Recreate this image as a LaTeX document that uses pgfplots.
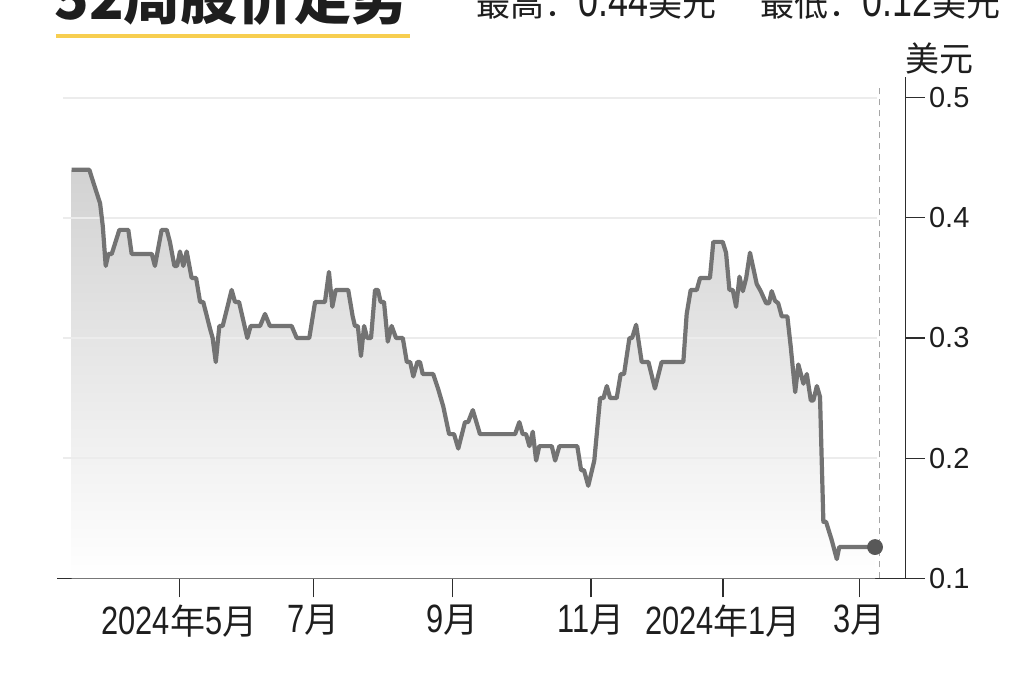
\documentclass[border=0pt]{standalone}
\usepackage{fontspec}
\setmainfont{Liberation Sans}
\newfontfamily\cjk{Noto Sans CJK SC}
\newfontfamily\narrow[FakeStretch=0.78]{Liberation Sans}
\usepackage{pgfplots}
\usepackage{pgfplotstable}
\pgfplotsset{compat=1.18}

\definecolor{linegray}{RGB}{115,115,115}
\definecolor{dotgray}{RGB}{88,88,88}
\definecolor{gridgray}{RGB}{236,236,236}
\definecolor{dashgray}{RGB}{165,165,165}
\definecolor{fillgray}{RGB}{210,210,210}
\definecolor{fillmid}{RGB}{243,243,243}
\definecolor{axisblack}{RGB}{45,45,45}
\definecolor{titleyellow}{RGB}{247,206,80}
\definecolor{textblack}{RGB}{30,30,30}

\newcommand\cj[2][17.5]{{\fontsize{#1}{#1}\cjk #2}}
\newcommand\dg[2][19.75]{{\fontsize{#1}{#1}\narrow #2}}

% day 0 = 1 May; price in USD
\pgfplotstableread{
day price
-48.1 0.440
-40.2 0.440
-39.2 0.434
-35.4 0.412
-34.2 0.393
-32.9 0.360
-31.7 0.370
-30.2 0.370
-26.8 0.390
-22.8 0.390
-21.3 0.370
-12.3 0.370
-10.9 0.360
-7.9 0.390
-5.6 0.390
-4.2 0.380
-2.2 0.360
-1.0 0.360
0.3 0.372
1.8 0.360
3.3 0.372
5.5 0.350
7.5 0.350
9.3 0.330
10.7 0.330
13.7 0.308
14.9 0.300
16.3 0.280
17.9 0.310
19.4 0.310
23.4 0.340
24.9 0.330
26.7 0.330
30.4 0.300
31.9 0.310
36.1 0.310
38.3 0.320
40.5 0.310
50.2 0.310
52.5 0.300
58.1 0.300
60.7 0.330
65.1 0.330
66.9 0.355
68.4 0.326
69.9 0.340
75.5 0.340
77.5 0.318
78.5 0.310
79.8 0.310
81.2 0.285
82.6 0.310
84.0 0.300
85.7 0.300
87.5 0.340
88.8 0.340
90.0 0.330
91.5 0.330
93.2 0.297
94.9 0.310
96.9 0.300
99.9 0.300
101.7 0.280
103.2 0.280
104.6 0.268
106.4 0.280
107.6 0.280
108.8 0.270
113.5 0.270
115.8 0.257
118.0 0.243
120.6 0.220
122.8 0.220
124.7 0.208
127.7 0.230
129.1 0.230
131.2 0.240
134.4 0.220
150.1 0.220
152.0 0.230
153.5 0.220
155.0 0.220
156.5 0.210
158.0 0.222
159.5 0.198
160.9 0.210
166.5 0.210
168.0 0.198
169.9 0.210
177.9 0.210
179.6 0.190
180.9 0.190
182.8 0.177
185.5 0.198
188.1 0.250
189.6 0.250
191.1 0.260
192.6 0.250
195.5 0.250
197.3 0.270
198.8 0.270
201.2 0.300
202.4 0.300
204.2 0.311
206.7 0.280
209.7 0.280
212.6 0.258
215.6 0.280
225.3 0.280
226.8 0.320
228.6 0.340
231.3 0.340
232.8 0.350
237.2 0.350
238.7 0.380
242.9 0.380
244.4 0.371
245.9 0.340
247.4 0.340
248.9 0.326
250.4 0.351
251.9 0.339
253.4 0.350
255.1 0.371
256.6 0.358
258.1 0.345
259.9 0.339
262.3 0.329
263.6 0.329
264.8 0.339
266.3 0.331
267.7 0.329
269.3 0.318
271.8 0.318
273.3 0.293
275.3 0.255
276.7 0.278
279.0 0.262
280.5 0.270
282.3 0.248
283.4 0.248
285.0 0.260
286.4 0.251
287.9 0.147
289.1 0.147
291.6 0.132
293.9 0.116
295.0 0.126
311.0 0.126
}\price

\begin{document}
\begin{tikzpicture}
\useasboundingbox (0,0) rectangle (512pt,341pt);
\clip (0,0) rectangle (512pt,341pt);

% title and header, cut by the top edge (pixel units)
\begin{scope}[x=0.5pt,y=0.5pt]
\node[anchor=base west, inner sep=0pt, text=textblack] at (54,662)
  {\fontsize{28.5}{30}\cjk\bfseries 52周股价走势};
\fill[titleyellow] (56,643.7) rectangle (410,647.7);
\node[anchor=base west, inner sep=0pt, text=textblack] at (476,665)
  {\cj[17]{最高：}\dg[23]{0.44}\cj[17]{美元}};
\node[anchor=base west, inner sep=0pt, text=textblack] at (760,665)
  {\cj[17]{最低：}\dg[23]{0.12}\cj[17]{美元}};
\node[text=textblack, inner sep=0pt] at (939,624) {\cj[17]{美元}};
\end{scope}

\begin{axis}[
  at={(28.5pt,51.85pt)}, anchor=south west,
  scale only axis,
  width=424.35pt, height=250.8pt,
  xmin=-54.67, xmax=324.7,
  ymin=0.1, ymax=0.5175,
  axis x line*=bottom,
  axis y line*=right,
  axis line style={axisblack, line width=0.75pt},
  tick align=outside,
  major tick length=9.5pt,
  tick style={axisblack, line width=0.6pt},
  xtick={0,60,122,184,243,304},
  xticklabels={
    {\dg{2024}\cj{年}\dg{5}\cj{月}},
    {\dg{7}\cj{月}},
    {\dg{9}\cj{月}},
    {\dg{11}\cj{月}},
    {\dg{2024}\cj{年}\dg{1}\cj{月}},
    {\dg{3}\cj{月}}},
  xticklabel style={text=textblack, inner sep=0pt, yshift=-3.5pt},
  ytick={0.1,0.2,0.3,0.4,0.5},
  /pgf/number format/assume math mode=true,
  yticklabel style={font=\fontsize{14.5}{15}\selectfont, text=textblack,
    inner sep=0pt, xshift=2pt,
    /pgf/number format/.cd, fixed, precision=1, /tikz/.cd},
  clip=false,
]
\addplot[draw=none, top color=fillgray, middle color=fillmid, bottom color=white]
  table[x=day, y=price] {\price} \closedcycle;
\foreach \g in {0.2,0.3,0.4,0.5}{
  \edef\tmp{\noexpand\draw[gridgray, line width=1pt]
    (axis cs:-52,\g) -- (axis cs:312,\g);}\tmp
}
\draw[dashgray, line width=0.6pt, dash pattern=on 3pt off 2.5pt]
  (axis cs:312.9,0.1) -- (axis cs:312.9,0.511);
\addplot[linegray, line width=2.1pt, line join=round, mark=none]
  table[x=day, y=price] {\price};
\addplot[only marks, mark=*, mark size=3.75pt, dotgray]
  coordinates {(311.0,0.126)};
\end{axis}
\end{tikzpicture}
\end{document}
